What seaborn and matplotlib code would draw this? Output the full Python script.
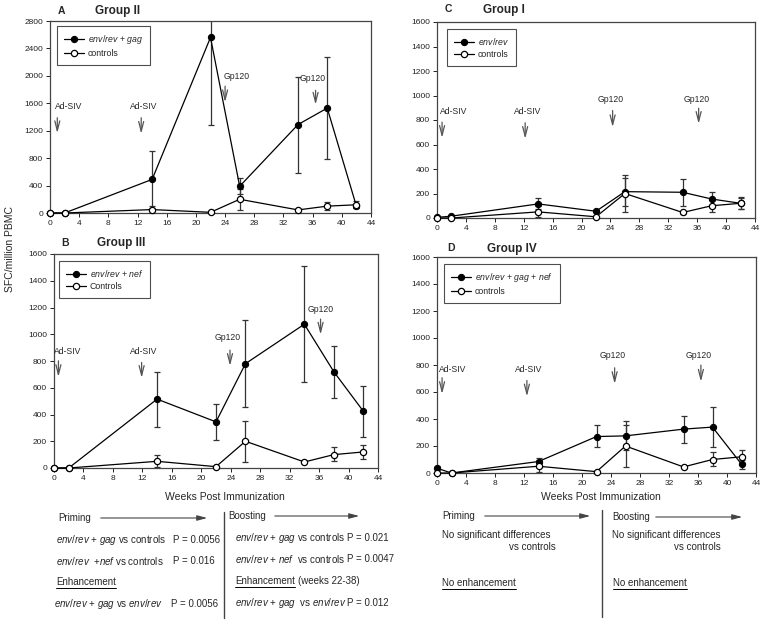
import pandas as pd
import seaborn as sns
import matplotlib.pyplot as plt
from matplotlib.lines import Line2D
from matplotlib.patches import FancyArrowPatch

# data
weeks = [0, 2, 14, 22, 26, 34, 38, 42]

ctrl_sfc = [0, 0, 50, 10, 200, 45, 100, 120]
ctrl_lo = [0, 0, 5, 10, 45, 35, 50, 70]
ctrl_hi = [0, 0, 95, 10, 355, 55, 155, 170]

# Group II  env/rev + gag
g2_sfc = [0, 0, 490, 2560, 390, 1290, 1530, 100]
g2_lo = [0, 0, 70, 1280, 270, 590, 790, 70]
g2_hi = [0, 0, 910, 3840, 510, 1990, 2280, 130]

# Group III  env/rev + nef
g3_sfc = [0, 0, 515, 345, 780, 1075, 720, 425]
g3_lo = [0, 0, 310, 210, 455, 645, 520, 235]
g3_hi = [0, 0, 720, 475, 1105, 1510, 915, 615]

# Group I  env/rev
g1_sfc = [5, 15, 115, 55, 215, 210, 155, 120]
g1_lo = [5, 15, 70, 45, 95, 95, 100, 75]
g1_hi = [5, 15, 160, 65, 330, 320, 210, 165]

# Group IV  env/rev + gag + nef
g4_sfc = [35, 0, 85, 270, 275, 325, 340, 65]
g4_lo = [20, 0, 60, 190, 170, 225, 195, 30]
g4_hi = [50, 0, 110, 355, 385, 425, 490, 100]

sns.set_style("ticks")
plt.rcParams['font.family'] = ['Liberation Sans', 'DejaVu Sans']
plt.rcParams['mathtext.fontset'] = 'custom'
plt.rcParams['mathtext.rm'] = 'Liberation Sans'
plt.rcParams['mathtext.it'] = 'Liberation Sans:italic'

W, H = 764, 620
fig = plt.figure(figsize=(W / 100, H / 100), dpi=100)


def px_axes(l, t, r, b):
    return fig.add_axes([l / W, 1 - b / H, (r - l) / W, (b - t) / H])


def fx(x):
    return x / W


def fy(y):
    return 1 - y / H


# (letter, title, label, values, lo, hi, ymax, axes box px, legend anchor, arrows)
panels = [
    ("A", "Group II", r"$\it{env/rev}$ + $\it{gag}$", "controls",
     g2_sfc, g2_lo, g2_hi, 2800, 400, (50, 21, 371, 213), (57, 26), (58, 11), (95, 11),
     [("Ad-SIV", 2.5, 1560, 1.0, 1430, 1124), ("Ad-SIV", 12.8, 1560, 12.5, 1430, 1115),
      ("Gp120", 25.6, 1986, 24.0, 1890, 1575), ("Gp120", 36.0, 1960, 36.4, 1830, 1540)]),
    ("B", "Group III", r"$\it{env/rev}$ + $\it{nef}$", "Controls",
     g3_sfc, g3_lo, g3_hi, 1600, 200, (54, 254, 378, 468), (59, 261), (61, 243), (97, 243),
     [("Ad-SIV", 1.9, 872, 0.6, 822, 660), ("Ad-SIV", 12.2, 872, 11.9, 810, 653),
      ("Gp120", 23.6, 977, 23.9, 902, 743), ("Gp120", 36.2, 1184, 36.2, 1134, 977)]),
    ("C", "Group I", r"$\it{env/rev}$", "controls",
     g1_sfc, g1_lo, g1_hi, 1600, 200, (437, 22, 755, 218), (447, 29), (445, 9), (483, 10),
     [("Ad-SIV", 2.3, 868, 0.7, 805, 632), ("Ad-SIV", 12.6, 868, 12.2, 800, 624),
      ("Gp120", 24.1, 968, 24.3, 900, 719), ("Gp120", 35.9, 968, 36.2, 919, 746)]),
    ("D", "Group IV", r"$\it{env/rev}$ + $\it{gag}$ + $\it{nef}$", "controls",
     g4_sfc, g4_lo, g4_hi, 1600, 200, (437, 257, 756, 473), (444, 264), (447, 248), (487, 249),
     [("Ad-SIV", 2.2, 770, 0.7, 726, 565), ("Ad-SIV", 12.7, 763, 12.4, 706, 547),
      ("Gp120", 24.2, 869, 24.5, 800, 639), ("Gp120", 36.1, 869, 36.4, 820, 656)]),
]

for (letter, title, lab1, lab2, vals, lo, hi, ymax, ystep, box, leg, lpos, tpos, arrows) in panels:
    ax = px_axes(*box)
    l, t, r, b = box

    # error bars first so the markers sit on top
    for v, lo_, hi_, in [(ctrl_sfc, ctrl_lo, ctrl_hi), (vals, lo, hi)]:
        yerr = [[vi - a for vi, a in zip(v, lo_)], [c - vi for vi, c in zip(v, hi_)]]
        ax.errorbar(weeks, v, yerr=yerr, fmt='none', ecolor='#333333', elinewidth=0.9,
                    capsize=2, capthick=0.9, zorder=2)

    df1 = pd.DataFrame({'week': weeks, 'sfc': vals})
    df2 = pd.DataFrame({'week': weeks, 'sfc': ctrl_sfc})
    sns.lineplot(data=df1, x='week', y='sfc', ax=ax, color='black', lw=0.9, marker='o',
                 markersize=4.5, markerfacecolor='black', markeredgecolor='black',
                 label=lab1, clip_on=False, zorder=3)
    sns.lineplot(data=df2, x='week', y='sfc', ax=ax, color='black', lw=0.9, marker='o',
                 markersize=4.5, markerfacecolor='white', markeredgecolor='black',
                 markeredgewidth=0.9, label=lab2, clip_on=False, zorder=4)

    ax.set_xlim(0, 44)
    ax.set_ylim(0, ymax)
    ax.set_xticks(range(0, 45, 4))
    ax.set_yticks(range(0, ymax + 1, ystep))
    ax.set_xlabel('')
    ax.set_ylabel('')
    ax.tick_params(direction='out', length=3, width=0.7, labelsize=6, pad=2, colors='#222222')
    for s in ax.spines.values():
        s.set_visible(True)
        s.set_linewidth(0.9)
        s.set_color('#444444')

    lg = ax.legend(loc='upper left', bbox_to_anchor=((leg[0] - l) / (r - l), 1 - (leg[1] - t) / (b - t)),
                   borderaxespad=0, fontsize=6.3, frameon=True, fancybox=False, handlelength=2.3,
                   borderpad=0.8, labelspacing=0.3, handletextpad=0.4)
    lg.get_frame().set_edgecolor('#222222')
    lg.get_frame().set_linewidth(0.8)

    for (txt, tx, ty, ax_x, a_top, a_tip) in arrows:
        ax.text(tx, ty, txt, ha='center', va='center', fontsize=6.2)
        ax.annotate('', xy=(ax_x, a_tip), xytext=(ax_x, a_top),
                    arrowprops=dict(arrowstyle='->,head_length=0.7,head_width=0.18',
                                    color='#555555', lw=0.9))

    fig.text(fx(lpos[0]), fy(lpos[1]), letter, fontsize=7.5, fontweight='bold', va='center')
    fig.text(fx(tpos[0]), fy(tpos[1]), title, fontsize=8.5, fontweight='bold', va='center')

fig.text(fx(10), fy(249), 'SFC/million PBMC', rotation=90, ha='center', va='center', fontsize=7.5)
fig.text(fx(225), fy(497), 'Weeks Post Immunization', ha='center', va='center', fontsize=7.5)
fig.text(fx(601), fy(497), 'Weeks Post Immunization', ha='center', va='center', fontsize=7.5)

# lower text block
fs = 7
under = []


def put(x, y, s, ul=False):
    t = fig.text(fx(x), fy(y), s, fontsize=fs, va='center', ha='left')
    if ul:
        under.append(t)
    return t


def arrow(x0, x1, y):
    fig.add_artist(FancyArrowPatch((fx(x0), fy(y)), (fx(x1), fy(y)), transform=fig.transFigure,
                                   arrowstyle='-|>,head_length=6,head_width=1.6',
                                   color='#444444', lw=0.8))


put(58, 518, 'Priming')
arrow(98, 210, 518)
put(56, 540, r'$\it{env/rev}$ + $\it{gag}$ vs controls')
put(173, 540, 'P = 0.0056')
put(56, 561, r'$\it{env/rev}$  +$\it{nef}$ vs controls')
put(173, 561, 'P = 0.016')
put(56, 582, 'Enhancement', ul=True)
put(54, 604, r'$\it{env/rev}$ + $\it{gag}$ vs $\it{env/rev}$')
put(171, 604, 'P = 0.0056')

fig.add_artist(Line2D([fx(224), fx(224)], [fy(512), fy(618)], color='#444444', lw=1))

put(228, 516, 'Boosting')
arrow(272, 362, 516)
put(235, 538, r'$\it{env/rev}$ + $\it{gag}$ vs controls')
put(347, 538, 'P = 0.021')
put(235, 559, r'$\it{env/rev}$ + $\it{nef}$  vs controls')
put(347, 559, 'P = 0.0047')
put(235, 581, 'Enhancement', ul=True)
put(298, 581, '(weeks 22-38)')
put(235, 603, r'$\it{env/rev}$ + $\it{gag}$  vs $\it{env/rev}$')
put(347, 603, 'P = 0.012')

put(442, 516, 'Priming')
arrow(482, 593, 516)
put(442, 535, 'No significant differences')
put(509, 547, 'vs controls')
put(442, 583, 'No enhancement', ul=True)

fig.add_artist(Line2D([fx(602), fx(602)], [fy(510), fy(617)], color='#444444', lw=1))

put(612, 517, 'Boosting')
arrow(653, 745, 517)
put(612, 535, 'No significant differences')
put(674, 547, 'vs controls')
put(613, 583, 'No enhancement', ul=True)

# underline the headings
renderer = fig.canvas.get_renderer()
for t in under:
    bb = t.get_window_extent(renderer=renderer)
    yline = (bb.y0 - 1) / (H)
    fig.add_artist(Line2D([bb.x0 / W, bb.x1 / W], [yline, yline], color='black', lw=0.7))

fig.savefig('out.png', dpi=100)
